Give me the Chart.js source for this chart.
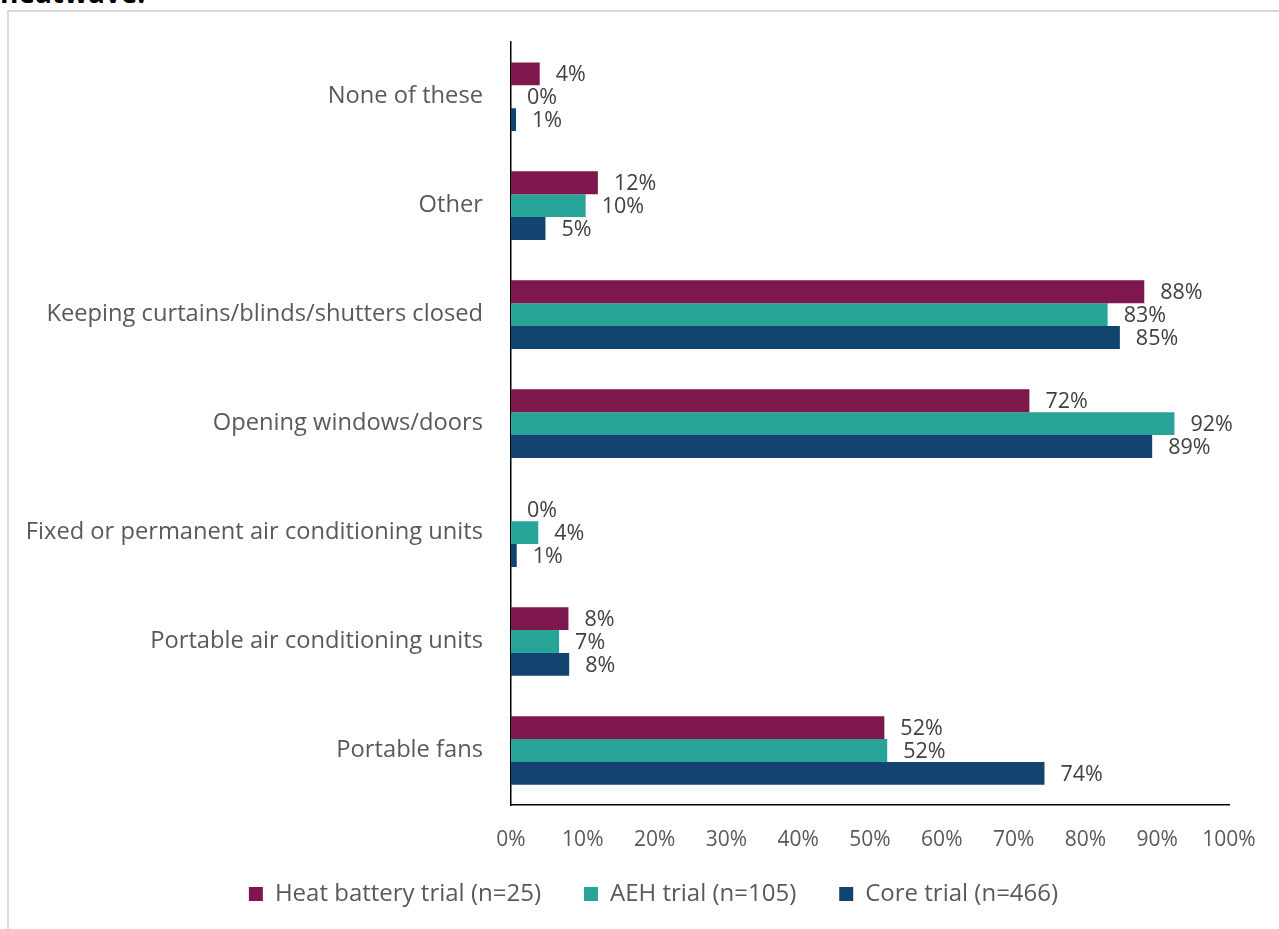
<!DOCTYPE html>
<html>
<head>
<meta charset="utf-8">
<script src="https://cdn.jsdelivr.net/npm/chart.js@4"></script>
<style>
  body { margin: 0; background: #fff; overflow: hidden; }
  #title { position: absolute; left: 0; top: -27px; font: bold 28px "Open Sans", sans-serif; color: #000; }
  #frame { position: absolute; left: 7px; top: 10px; width: 1300px; height: 950px; border: 2px solid #d9d9d9; box-sizing: border-box; }
  #wrap { position: absolute; left: 0; top: 0; width: 1279px; height: 929px; }
</style>
</head>
<body>
<div id="title">heatwave.</div>
<div id="frame"></div>
<div id="wrap"><canvas id="chart"></canvas></div>
<script>
const categories = [
    'None of these',
    'Other',
    'Keeping curtains/blinds/shutters closed',
    'Opening windows/doors',
    'Fixed or permanent air conditioning units',
    'Portable air conditioning units',
    'Portable fans'
];
const heatBattery = [4.0, 12.1, 88.2, 72.2, 0, 8.0, 52.0];
const aehTrial = [0, 10.4, 83.1, 92.4, 3.8, 6.7, 52.4];
const coreTrial = [0.7, 4.8, 84.8, 89.3, 0.8, 8.1, 74.3];
const xTicks = [0, 10, 20, 30, 40, 50, 60, 70, 80, 90, 100];

const seriesNames = ['Heat battery trial (n=25)', 'AEH trial (n=105)', 'Core trial (n=466)'];
const seriesColors = ['#7e184c', '#28a397', '#134470'];

// value labels just past the end of each bar
const barLabels = {
    id: 'barLabels',
    afterDatasetsDraw(chart) {
        const ctx = chart.ctx;
        ctx.save();
        ctx.font = '21.5px "Open Sans", sans-serif';
        ctx.fillStyle = '#404040';
        ctx.textAlign = 'left';
        ctx.textBaseline = 'middle';
        chart.data.datasets.forEach((ds, i) => {
            chart.getDatasetMeta(i).data.forEach((bar, j) => {
                ctx.fillText(Math.round(ds.data[j]) + '%', bar.x + 16, bar.y + 1);
            });
        });
        ctx.restore();
    }
};

// nudge the legend up towards the axis labels and a bit to the right
const legendNudge = {
    id: 'legendNudge',
    afterLayout(chart) {
        const lg = chart.legend;
        if (lg) {
            lg.top -= 13;
            lg.bottom -= 13;
            lg.left += 39;
            lg.right += 39;
        }
    }
};

const chartCanvas = document.getElementById('chart');
new Chart(chartCanvas, {
    type: 'bar',
    data: {
        labels: categories,
        datasets: [heatBattery, aehTrial, coreTrial].map((d, i) => ({
            label: seriesNames[i],
            data: d,
            backgroundColor: seriesColors[i],
            categoryPercentage: 0.63,
            barPercentage: 1.0
        }))
    },
    options: {
        indexAxis: 'y',
        responsive: true,
        maintainAspectRatio: false,
        animation: false,
        layout: { padding: { top: 40, right: 50, bottom: 0, left: 0 } },
        scales: {
            x: {
                min: 0,
                max: 100,
                afterBuildTicks: (axis) => { axis.ticks = xTicks.map(v => ({ value: v })); },
                afterFit: (axis) => { axis.height = 47; },
                grid: { display: false, drawTicks: false },
                border: { display: true, color: '#000', width: 1.5 },
                ticks: {
                    padding: 22,
                    color: '#595959',
                    font: { family: 'Open Sans', size: 21 },
                    callback: (v) => v + '%'
                }
            },
            y: {
                grid: { display: false, drawTicks: false },
                border: { display: true, color: '#000', width: 1.5 },
                afterFit: (axis) => { axis.width = 511; },
                ticks: {
                    padding: 28,
                    color: '#595959',
                    font: { family: 'Open Sans', size: 23.7 }
                }
            }
        },
        plugins: {
            legend: {
                position: 'bottom',
                labels: {
                    boxWidth: 14,
                    boxHeight: 14,
                    padding: 43,
                    color: '#595959',
                    font: { family: 'Open Sans', size: 24 }
                }
            },
            tooltip: { enabled: false }
        }
    },
    plugins: [barLabels, legendNudge]
});
</script>
</body>
</html>
